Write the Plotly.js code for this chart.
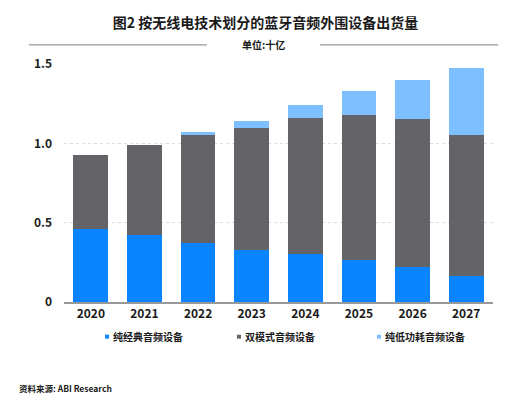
<!DOCTYPE html>
<html>
<head>
<meta charset="utf-8">
<script src="https://cdn.plot.ly/plotly-3.0.1.min.js"></script>
<style>html,body{margin:0;padding:0;background:#fff;}#chart{width:531px;height:398px;}</style>
</head>
<body>
<div id="chart"></div>
<script>
const years = ['2020','2021','2022','2023','2024','2025','2026','2027'];
const classicOnly = [0.458, 0.422, 0.370, 0.330, 0.305, 0.265, 0.222, 0.164];
const dualMode = [0.466, 0.565, 0.682, 0.766, 0.854, 0.915, 0.931, 0.890];
const leOnly = [0.000, 0.000, 0.019, 0.044, 0.084, 0.150, 0.247, 0.421];
const seriesNames = ['纯经典音频设备', '双模式音频设备', '纯低功耗音频设备'];
const yTickVals = [0, 0.5, 1.0, 1.5];
const yTickText = ['0', '0.5', '1.0', '1.5'];

const F = '"Noto Sans CJK SC", "Noto Sans", sans-serif';
const colors = ['#0A84FF', '#646468', '#7DBFFF'];
const mk = (name, y, c) => ({
  type: 'bar', name: name, x: years, y: y,
  marker: {color: c, line: {width: 0}}, width: 0.65, showlegend: false
});
const data = [
  mk(seriesNames[0], classicOnly, colors[0]),
  mk(seriesNames[1], dualMode, colors[1]),
  mk(seriesNames[2], leOnly, colors[2])
];

// custom legend (small square swatches + labels), positions in paper coords
const legX = [0.0956, 0.4033, 0.7296];
const legendShapes = legX.map((x, i) => ({
  type: 'rect', xref: 'paper', yref: 'paper', x0: x, x1: x + 0.0093, y0: -0.154, y1: -0.1374,
  fillcolor: colors[i], line: {width: 0}
}));
const legendAnn = legX.map((x, i) => ({
  text: '<b>' + seriesNames[i] + '</b>', xref: 'paper', yref: 'paper', x: x + 0.0135, y: -0.145,
  xanchor: 'left', yanchor: 'middle', showarrow: false, font: {family: F, size: 10, color: '#1a1a1a'}
}));

const layout = {
  width: 531, height: 398,
  margin: {l: 64, r: 38, t: 64, b: 96},
  paper_bgcolor: '#fff', plot_bgcolor: '#fff',
  barmode: 'stack',
  font: {family: F, color: '#1a1a1a', size: 12},
  title: {text: '<b>图2 按无线电技术划分的蓝牙音频外围设备出货量</b>', x: 0.5, xanchor: 'center', y: 0.943, yanchor: 'middle', font: {family: F, size: 14, color: '#1a1a1a'}},
  xaxis: {
    type: 'category', showgrid: false, showline: true, linecolor: '#999', linewidth: 1.5,
    tickfont: {family: F, size: 12, color: '#1a1a1a'}, ticks: '', tickprefix: '<b>', ticksuffix: '</b>'
  },
  yaxis: {
    range: [0, 1.5], tickvals: yTickVals, ticktext: yTickText.map(t => '<b>' + t + '</b>'),
    showgrid: true, gridcolor: '#dcdcdc', griddash: 'dot', gridwidth: 1,
    zeroline: false, showline: false, ticks: '', ticklabelstandoff: 11,
    tickfont: {family: F, size: 12, color: '#1a1a1a'}
  },
  showlegend: false,
  shapes: [
    {type: 'line', xref: 'paper', yref: 'paper', x0: -0.082, x1: 0.333, y0: 1.08, y1: 1.08, line: {color: '#999', width: 1.2}},
    {type: 'line', xref: 'paper', yref: 'paper', x0: 0.597, x1: 1.012, y0: 1.08, y1: 1.08, line: {color: '#999', width: 1.2}}
  ].concat(legendShapes),
  annotations: [
    {text: '<b>单位:十亿</b>', xref: 'paper', yref: 'paper', x: 0.466, y: 1.08, xanchor: 'center', yanchor: 'middle', showarrow: false, font: {family: F, size: 10, color: '#1a1a1a'}},
    {text: '<b>资料来源: ABI Research</b>', xref: 'paper', yref: 'paper', x: -0.11, y: -0.36, xanchor: 'left', yanchor: 'middle', showarrow: false, font: {family: F, size: 8.5, color: '#1a1a1a'}}
  ].concat(legendAnn)
};
Plotly.newPlot('chart', data, layout, {displayModeBar: false, staticPlot: true});
</script>
</body>
</html>
